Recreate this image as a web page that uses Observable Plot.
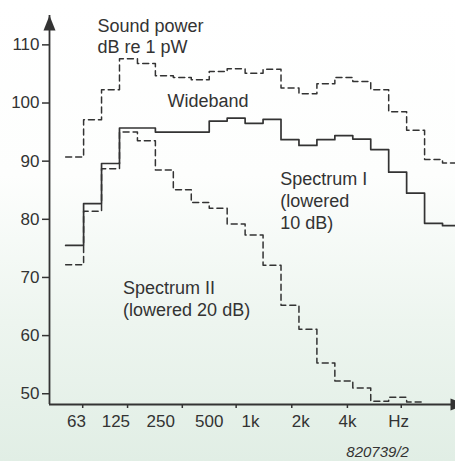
<!DOCTYPE html>
<html>
<head>
<meta charset="utf-8">
<script src="https://cdn.jsdelivr.net/npm/d3@7"></script>
<script src="https://cdn.jsdelivr.net/npm/@observablehq/plot@0.6"></script>
<style>
  html, body { margin: 0; padding: 0; }
  body { width: 455px; height: 461px; overflow: hidden;
    background: linear-gradient(to bottom, #ffffff 0%, #fdfefd 38%, #edf5ef 70%, #e1eee5 100%); }
  #chart svg { display: block; background: transparent; }
</style>
</head>
<body>
<div id="chart"></div>
<script>
// Third-octave bands (band index = position in this list)
const bands = ["63","80","100","125","160","200","250","315","400","500","630","800",
               "1k","1.25k","1.6k","2k","2.5k","3.15k","4k","5k","6.3k","8k"];

// Sound power levels, dB re 1 pW, per band
const wideband   = [90.7, 97.1, 102.3, 107.6, 106.8, 104.7, 104.4, 104.0, 105.4, 105.9, 105.1,
                    105.8, 102.6, 101.6, 103.3, 104.4, 103.7, 102.3, 98.5, 95.3, 90.3, 89.7];
const spectrumI  = [75.5, 82.7, 89.6, 95.7, 95.7, 95.0, 95.0, 95.0, 96.9, 97.4, 96.5,
                    97.2, 93.7, 92.7, 93.7, 94.4, 93.8, 92.0, 88.1, 84.5, 79.3, 78.9];
const spectrumII = [72.2, 81.4, 88.7, 95.0, 93.5, 88.5, 85.1, 82.9, 81.9, 79.2, 77.3,
                    72.1, 65.2, 61.1, 55.3, 52.2, 51.0, 48.7, 49.4, 48.6];

// Axis ticks
const yTicks = [50, 60, 70, 80, 90, 100, 110];
const xTickBands = [0.95, 3.45, 6.5, 9.5, 12.6, 15.7, 18.7];
const xTickLabels = ["63", "125", "250", "500", "1k", "2k", "4k", "Hz"];
const xTickLabelBands = [0.6, 2.8, 5.3, 8.0, 10.3, 13.1, 15.7, 18.55];

// Annotation texts
const annotations = [
  {text: "Sound power\ndB re 1 pW", band: 1.77, db: 114.95},
  {text: "Wideband", band: 5.67, db: 102.0},
  {text: "Spectrum I\n(lowered\n10 dB)", band: 11.96, db: 88.55},
  {text: "Spectrum II\n(lowered 20 dB)", band: 3.2, db: 69.8}
];
const figureCode = "820739/2";

const xDomain = [-0.9, 21.5];
const yDomain = [48.15, 115.05];

function steps(values) {
  const pts = values.map((v, i) => ({band: i, db: v}));
  pts.push({band: values.length, db: values[values.length - 1]});
  return pts;
}

const arrowHead = {
  draw(ctx) {
    ctx.moveTo(0, 0);
    ctx.lineTo(-6, 15);
    ctx.lineTo(6, 15);
    ctx.closePath();
  }
};

const ink = "#333333";
const font = "'Liberation Sans', Arial, Helvetica, sans-serif";

const plot = Plot.plot({
  width: 455,
  height: 461,
  marginLeft: 49,
  marginRight: 4,
  marginTop: 15,
  marginBottom: 57,
  style: {color: ink, fontFamily: font, background: "transparent", overflow: "visible"},
  x: {domain: xDomain, axis: null},
  y: {domain: yDomain, axis: null},
  marks: [
    // axes lines
    Plot.ruleX([xDomain[0]], {stroke: ink, strokeWidth: 1.8}),
    Plot.ruleY([yDomain[0]], {stroke: ink, strokeWidth: 1.8}),
    Plot.dot([0], {x: () => xDomain[0], y: () => yDomain[1], symbol: arrowHead, fill: ink, stroke: null, r: 5}),
    Plot.dot([0], {x: () => xDomain[1], y: () => yDomain[0], symbol: arrowHead, fill: ink, stroke: null, r: 5, rotate: 90, dx: 14}),
    // y axis
    Plot.axisY(yTicks, {anchor: "left", tickSize: 7, tickPadding: 3, fontSize: 17, strokeWidth: 1.5, label: null}),
    // x axis ticks and labels
    Plot.axisX(xTickBands, {anchor: "bottom", tickSize: 4, tickFormat: () => "", strokeWidth: 1.5, label: null}),
    Plot.text(xTickLabels, {x: (d, i) => xTickLabelBands[i], text: d => d, frameAnchor: "bottom", dy: 22, fontSize: 17, fill: ink}),
    // step spectra
    Plot.line(steps(wideband), {x: "band", y: "db", curve: "step-after", stroke: ink, strokeWidth: 1.5, strokeDasharray: "6,4"}),
    Plot.line(steps(spectrumI), {x: "band", y: "db", curve: "step-after", stroke: ink, strokeWidth: 1.7}),
    Plot.line(steps(spectrumII), {x: "band", y: "db", curve: "step-after", stroke: ink, strokeWidth: 1.5, strokeDasharray: "6,4"}),
    // annotations
    Plot.text(annotations, {x: "band", y: "db", text: "text", textAnchor: "start", lineAnchor: "top", lineHeight: 1.21, fontSize: 18, fill: ink}),
    Plot.text([figureCode], {x: () => 15.64, text: d => d, frameAnchor: "bottom", dy: 52, textAnchor: "start", fontSize: 15, fontStyle: "italic", fill: ink})
  ]
});

document.getElementById("chart").appendChild(plot);
</script>
</body>
</html>
